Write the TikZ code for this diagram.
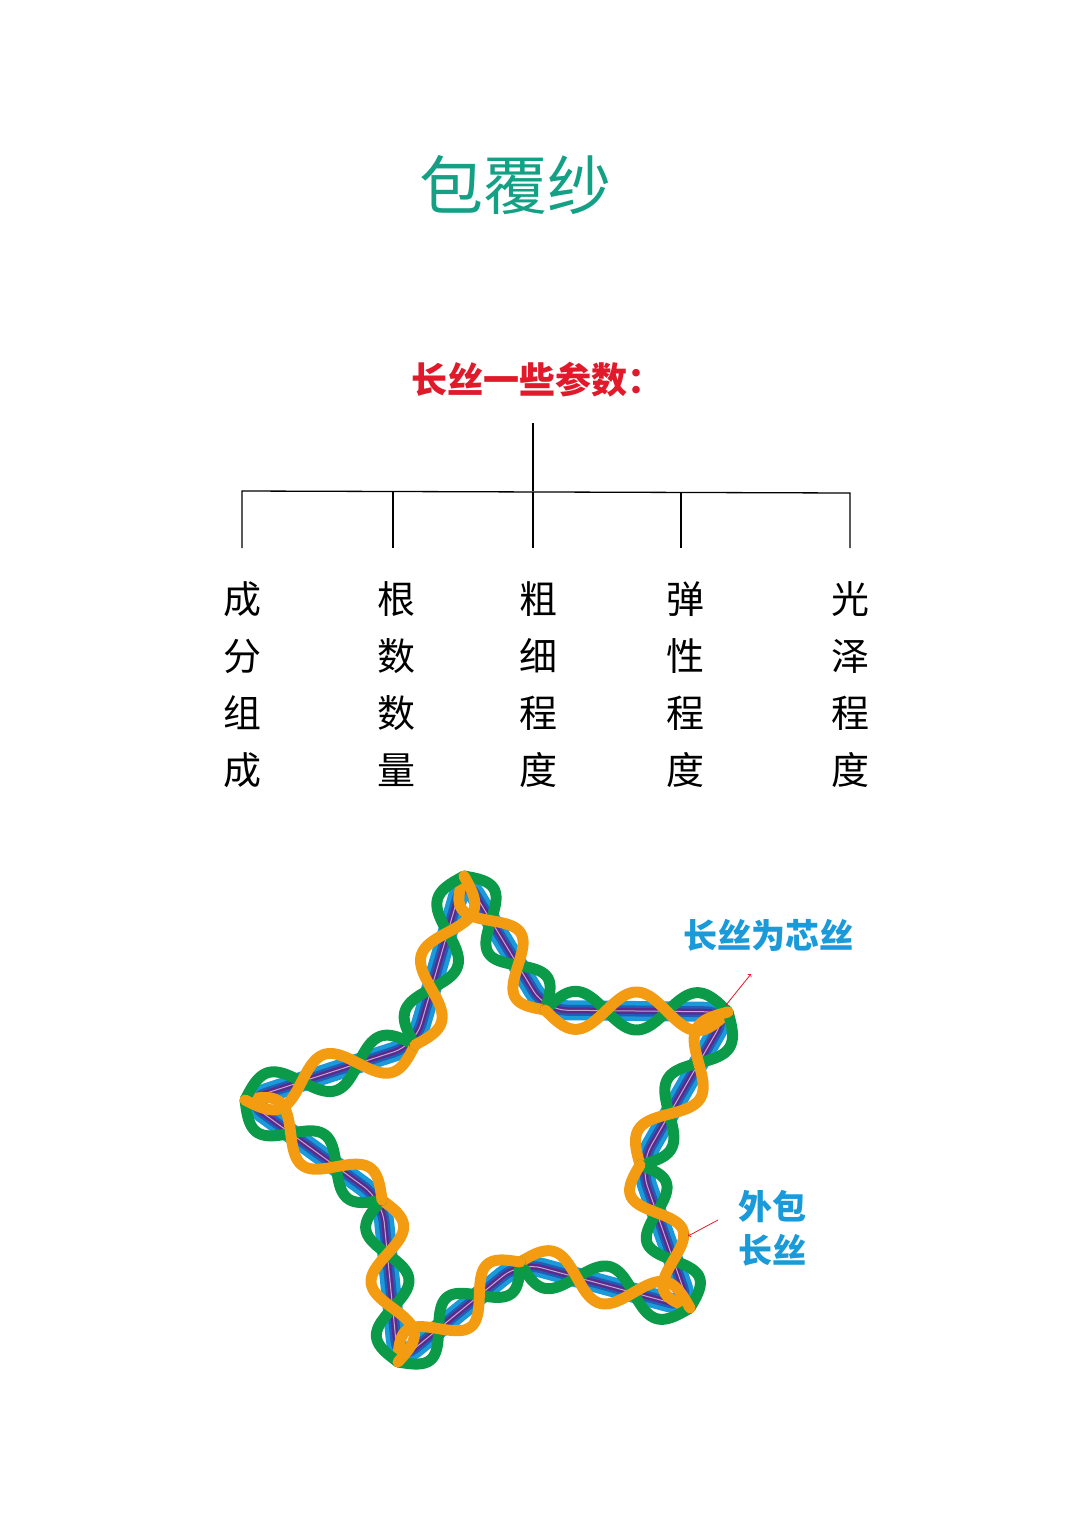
\documentclass[tikz,border=0pt]{standalone}
\usepackage{fontspec}
\setmainfont{Noto Sans CJK SC}
\usetikzlibrary{calc}
\definecolor{teal1}{HTML}{14A084}
\definecolor{red1}{HTML}{E0192B}
\definecolor{blue1}{HTML}{1A9AD8}
\definecolor{blue2}{HTML}{1F5FB8}
\definecolor{purp}{HTML}{5B2A8C}
\definecolor{grn}{HTML}{0A9A48}
\definecolor{org}{HTML}{F39C12}
\tikzset{col/.style={font=\fontsize{38}{57}\selectfont, align=center, anchor=north},
 wrap/.style={line width=11pt, line cap=round, line join=round}}
\begin{document}
\begin{tikzpicture}[x=1pt,y=1pt]
\useasboundingbox (0,0) rectangle (1080,-1528);
\node[text=teal1, font=\fontsize{64}{64}\selectfont] (title) at (515,-185) {包覆纱};
\node[text=red1, font=\fontsize{36}{36}\selectfont\bfseries] (hdr) at (537,-380) {长丝一些参数：};
\coordinate (t0) at (533,-423);
\coordinate (t1) at (533,-491);
\draw[line width=1.3pt] (t0) -- (t1);
\draw[line width=1.3pt] (242,-548) -- (242,-491) -- (850,-493) -- (850,-548);
\foreach \x in {393,533,681}{\draw[line width=1.3pt] (\x,-492) -- (\x,-548);}
\node[col] (c1) at (242,-578) {成\\分\\组\\成};
\node[col] (c2) at (396,-578) {根\\数\\数\\量};
\node[col] (c3) at (538,-578) {粗\\细\\程\\度};
\node[col] (c4) at (685,-578) {弹\\性\\程\\度};
\node[col] (c5) at (850,-578) {光\\泽\\程\\度};
\coordinate (p0) at (464,-876);
\coordinate (p1) at (545,-1010);
\coordinate (p2) at (728,-1012);
\coordinate (p3) at (640,-1165);
\coordinate (p4) at (690,-1308);
\coordinate (p5) at (520,-1262);
\coordinate (p6) at (398,-1362);
\coordinate (p7) at (382,-1200);
\coordinate (p8) at (245,-1100);
\coordinate (p9) at (415,-1045);
\def\starpath{[rounded corners=22pt] (p0) -- (p1) -- (p2) -- (p3) -- (p4) -- (p5) -- (p6) -- (p7) -- (p8) -- (p9) -- cycle}
\draw[blue1, line width=20pt, line join=round] \starpath;
\draw[blue2, line width=11pt, line join=round] \starpath;
\draw[purp, line width=6pt, line join=round] \starpath;
\draw[white!60!purp, line width=1pt] \starpath;
\foreach \a/\b [count=\i] in {p0/p1,p1/p2,p2/p3,p3/p4,p4/p5,p5/p6,p6/p7,p7/p8,p8/p9,p9/p0}{
  \path let \p1=($(\b)-(\a)$) in \pgfextra{\pgfmathsetmacro\Lx{veclen(\x1,\y1)}\pgfmathsetmacro\Ang{atan2(\y1,\x1)}\xdef\LL{\Lx}\xdef\AA{\Ang}};
  \pgfmathsetmacro\hh{max(1,round(\LL/58))}
  \pgfmathsetmacro\kk{180*\hh/\LL}
  \draw[wrap, grn, shift={(\a)}, rotate=\AA] plot[domain=0:\LL, samples=80, smooth] (\x,{19*sin(\x*\kk)});
  \draw[wrap, org, shift={(\a)}, rotate=\AA] plot[domain=0:\LL, samples=80, smooth] (\x,{-19*sin(\x*\kk)});
}
\node[text=blue1, font=\fontsize{34}{34}\selectfont\bfseries] (lab1) at (768,-935) {长丝为芯丝};
\node[text=blue1, font=\fontsize{34}{44}\selectfont\bfseries, align=left] (lab2) at (772,-1228) {外包\\长丝};
\coordinate (a1) at (726,-1005); \coordinate (a1e) at (751,-974);
\coordinate (a2) at (718,-1220); \coordinate (a2e) at (688,-1236);
\draw[red1, ->, line width=0.8pt] (a1) -- (a1e);
\draw[red1, ->, line width=0.8pt] (a2) -- (a2e);
\end{tikzpicture}
\end{document}
